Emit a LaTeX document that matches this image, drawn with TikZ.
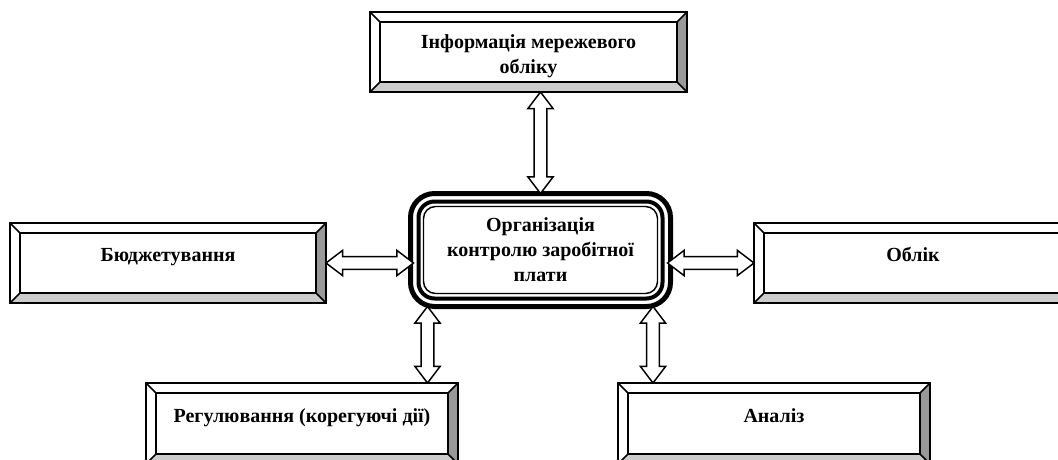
\documentclass[tikz,border=0pt]{standalone}
\usepackage{fontspec}
\setmainfont{Liberation Serif}
\usetikzlibrary{calc}

\newcommand\boxfont{\bfseries\fontsize{15}{18.75}\selectfont}

% bevelled frame round a panel node
\newcommand\bevel[1]{%
  \fill[bevelside] (#1.north east) -- (#1.south east) -- ([shift={(-10,-10)}]#1.south east) -- ([shift={(-10,10)}]#1.north east) -- cycle;
  \fill[bevelbottom] (#1.south west) -- (#1.south east) -- ([shift={(-10,-10)}]#1.south east) -- ([shift={(10,-10)}]#1.south west) -- cycle;
  \draw[bevelline] ([shift={(10,10)}]#1.north west) rectangle ([shift={(-10,-10)}]#1.south east);
  \foreach \a/\dx/\dy in {north west/10/10, north east/-10/10, south west/10/-10, south east/-10/-10}
    \draw[bevelline] (#1.\a) -- ++(\dx,\dy);
  \draw[bevelline] (#1.north west) rectangle (#1.south east);
}

% hollow double arrows (vertical: upper end first; horizontal: left end first)
\newcommand\linkv[2]{%
  \draw[linkarrow] let \p1=(#1), \p2=(#2) in
    (\x1,\y1) -- (\x1+9.5pt,\y1-12.5pt) -- (\x1+4.8pt,\y1-12.5pt) -- (\x1+4.8pt,\y2+12.5pt) -- (\x1+9.5pt,\y2+12.5pt) -- (\x1,\y2)
    -- (\x1-9.5pt,\y2+12.5pt) -- (\x1-4.8pt,\y2+12.5pt) -- (\x1-4.8pt,\y1-12.5pt) -- (\x1-9.5pt,\y1-12.5pt) -- cycle;
}
\newcommand\linkh[2]{%
  \draw[linkarrow] let \p1=(#1), \p2=(#2) in
    (\x1,\y1) -- (\x1+12.5pt,\y1+9.5pt) -- (\x1+12.5pt,\y1+4.8pt) -- (\x2-12.5pt,\y1+4.8pt) -- (\x2-12.5pt,\y1+9.5pt) -- (\x2,\y1)
    -- (\x2-12.5pt,\y1-9.5pt) -- (\x2-12.5pt,\y1-4.8pt) -- (\x1+12.5pt,\y1-4.8pt) -- (\x1+12.5pt,\y1-9.5pt) -- cycle;
}

\begin{document}
\begin{tikzpicture}[x=0.75pt, y=-0.75pt,
    panel/.style={rectangle, draw, fill=white, line width=1.1pt, outer sep=0pt, align=center, font=\boxfont},
    lifttext/.style={text height=10pt, text depth=12pt},
    core/.style={rectangle, draw, line width=3.75pt, rounded corners=18pt, outer sep=0pt, align=center, font=\boxfont,
                 minimum width=195pt, minimum height=84.75pt},
    bevelside/.style={fill=black!40},
    bevelbottom/.style={fill=black!20},
    bevelline/.style={line width=1.1pt},
    linkarrow/.style={draw, fill=white, line width=1.1pt, line join=miter},
  ]
  \useasboundingbox (0,0) rectangle (1058,460);

  % ====== центр ======
  \node[core] (org) at (540.5,250) {Організація\\контролю заробітної\\плати};
  \draw[line width=3pt, rounded corners=12pt] ([shift={(8,8)}]org.north west) rectangle ([shift={(-8,-8)}]org.south east);
  \draw[line width=1.1pt, rounded corners=9pt] ([shift={(13,13)}]org.north west) rectangle ([shift={(-13,-13)}]org.south east);

  % ====== блоки навколо ======
  \node[panel, text height=36pt, minimum width=237.75pt, minimum height=60pt] (info) at (528.5,52) {Інформація мережевого\\обліку};
  \node[panel, lifttext, minimum width=237pt, minimum height=60pt]    (budg) at (168,263)  {Бюджетування};
  \node[panel, lifttext, minimum width=238.5pt, minimum height=60pt]  (uch)  at (913,263)  {Облік};
  \node[panel, lifttext, minimum width=234pt, minimum height=60.75pt] (reg)  at (302,423.5) {Регулювання (корегуючі дії)};
  \node[panel, lifttext, minimum width=234pt, minimum height=60.75pt] (anal) at (774,423.5) {Аналіз};

  \bevel{info}
  \bevel{budg}
  \bevel{uch}
  \bevel{reg}
  \bevel{anal}

  % ====== стрілки ======
  \coordinate (regtop)  at ($(org.south west)+(17,0)$);
  \coordinate (analtop) at ($(org.south east)+(-17.5,0)$);

  \linkv{info.south -| org.north}{org.north}
  \linkh{budg.east}{$(budg.east -| org.west)+(3,0)$}
  \linkh{$(uch.west -| org.east)+(-3,0)$}{uch.west}
  \linkv{regtop}{regtop |- reg.north}
  \linkv{analtop}{analtop |- anal.north}
\end{tikzpicture}
\end{document}
